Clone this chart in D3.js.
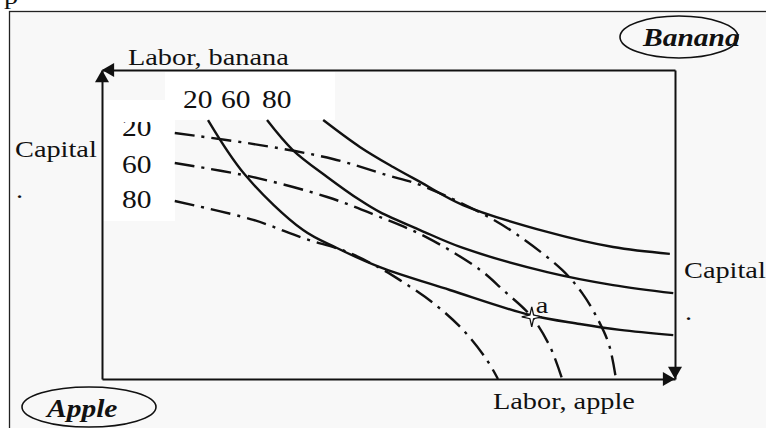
<!DOCTYPE html>
<html>
<head>
<meta charset="utf-8">
<script src="https://cdn.jsdelivr.net/npm/d3@7"></script>
<style>
body { margin: 0; background: #fff; }
text { font-family: "Liberation Serif", "Times New Roman", serif; fill: #111; }
</style>
</head>
<body>
<svg id="svg01" width="766" height="428"></svg>
<script>

// apple isoquants (solid) - [labor apple, capital apple], box is 100 x 100
const apple20 = [[18.5,83.8],[25.0,66.0],[35.1,48.2],[41.0,42.4],[48.5,36.2],[60.7,28.8],[74.7,20.7],[83.4,17.8],[90.4,15.9],[99.7,14.2]]
const apple60 = [[28.8,83.8],[33.3,74.1],[39.3,65.4],[45.0,57.9],[48.5,54.0],[55.5,48.2],[63.0,42.4],[77.7,34.6],[89.2,30.4],[99.7,27.8]]
const apple80 = [[38.6,83.8],[45.0,75.1],[50.8,68.6],[55.5,63.8],[63.0,56.3],[77.7,47.6],[89.2,42.7],[99.1,40.5]]

// banana isoquants (dash-dot), same apple-origin coords
const banana20 = [[12.7,79.6],[27.6,75.7],[40.3,71.2],[49.7,66.0],[55.5,62.8],[66.5,53.4],[72.3,46.9],[80.3,35.3],[83.8,27.8],[86.6,19.1],[88.5,11.0],[89.7,0]]
const banana60 = [[12.7,69.9],[26.2,65.4],[39.3,58.9],[48.0,52.8],[56.5,46.0],[66.0,35.3],[70.0,28.8],[75.0,20.1],[78.2,10.4],[80.3,0]]
const banana80 = [[12.7,57.6],[26.4,51.5],[35.1,45.6],[42.8,41.1],[48.5,35.9],[52.0,32.0],[57.8,24.6],[63.0,15.9],[67.2,6.1],[69.1,0]]

const appleLabels = ["20", "60", "80"]
const bananaLabels = ["20", "60", "80"]
const pointA = {name: "a", labor: 75.0, capital: 20.1}

const width = 766, height = 428
const margin = {top: 70, right: 91, bottom: 49, left: 102}

x = d3.scaleLinear()
    .domain([0, 100])
    .range([margin.left, width - margin.right])

y = d3.scaleLinear()
    .domain([0, 100])
    .range([height - margin.bottom, margin.top])

const svg = d3.select("#svg01")

//outer frame
svg.append("rect")
    .attr("x", 9.5).attr("y", 11.5)
    .attr("width", 780).attr("height", 440)
    .attr("fill", "#f8f8f8")
    .attr("stroke", "#222").attr("stroke-width", 1.3)

// text helper (the original type is stretched sideways)
function txt(g, s, px, py, size) {
    return g.append("text")
        .attr("transform", `translate(${px},${py}) scale(1.18,1)`)
        .attr("font-size", size)
        .text(s)
}

txt(svg, "p", 4, 4, 24)

// white label boxes
svg.append("rect").attr("x", 165).attr("y", 72).attr("width", 170).attr("height", 48).attr("fill", "#fff")
svg.append("rect").attr("x", 103).attr("y", 100).attr("width", 72).attr("height", 121).attr("fill", "#fff")

// box sides as axes without ticks
const sides = [
    [d3.axisBottom(x), `translate(0,${y(0)})`],
    [d3.axisTop(x), `translate(0,${y(100)})`],
    [d3.axisLeft(y), `translate(${x(0)},0)`],
    [d3.axisRight(y), `translate(${x(100)},0)`]
]
sides.forEach(([ax, tr]) => {
    svg.append("g")
        .attr("transform", tr)
        .call(ax.ticks(0).tickSizeOuter(0))
        .call(g => g.select(".domain").attr("stroke", "#111").attr("stroke-width", 2))
})

// arrow heads
const tri = d3.symbol(d3.symbolTriangle, 85)
const tipOff = 2 * Math.sqrt(85 / (Math.sqrt(3) * 3))
const heads = [
    [x(0) + tipOff, y(100), -90],
    [x(0), y(100) + tipOff, 0],
    [x(100) - tipOff, y(0), 90],
    [x(100), y(0) - tipOff, 180]
]
svg.selectAll(".head").data(heads).join("path")
    .attr("class", "head")
    .attr("d", tri)
    .attr("fill", "#111")
    .attr("transform", d => `translate(${d[0]},${d[1]}) rotate(${d[2]})`)

// curves
const line = d3.line()
    .x(d => x(d[0]))
    .y(d => y(d[1]))
    .curve(d3.curveCatmullRom)

const g_ = svg.append("g").attr("fill", "none").attr("stroke", "#111").attr("stroke-width", 2.4)

g_.selectAll(".apple").data([apple20, apple60, apple80]).join("path")
    .attr("class", "apple")
    .attr("d", line)

g_.selectAll(".banana").data([banana20, banana60, banana80]).join("path")
    .attr("class", "banana")
    .attr("d", line)
    .attr("stroke-dasharray", "20,7,3,7")

// point a (four pointed star)
const starR = [10, 2.6, 10, 2.6, 10, 2.6, 10, 2.6]
const star = d3.lineRadial()
    .angle((d, i) => i * Math.PI / 4)
    .radius(d => d)
    .curve(d3.curveLinearClosed)
svg.append("path")
    .attr("d", star(starR))
    .attr("transform", `translate(${x(pointA.labor)},${y(pointA.capital)})`)
    .attr("fill", "#fff").attr("stroke", "#111").attr("stroke-width", 1.3)
txt(svg, pointA.name, x(pointA.labor) + 4, y(pointA.capital) - 4, 24)

// isoquant labels
appleLabels.forEach((s, i) => txt(svg, s, [183, 221, 262][i], 108, 25))

svg.append("clipPath").attr("id", "clipL")
    .append("rect").attr("x", 103).attr("y", 122).attr("width", 72).attr("height", 100)
const gl = svg.append("g").attr("clip-path", "url(#clipL)")
bananaLabels.forEach((s, i) => txt(gl, s, 122, [136, 173, 208][i], 25))

// axis titles
txt(svg, "Labor, banana", 128, 65, 24)
txt(svg, "Labor, apple", 493, 409, 24)
txt(svg, "Capital", 15, 157, 24)
txt(svg, ".", 16, 198, 24)
txt(svg, "Capital", 684, 278, 24)
txt(svg, ".", 685, 320, 24)

// corner names in ellipses
svg.append("ellipse").attr("cx", 679).attr("cy", 37).attr("rx", 59).attr("ry", 21)
    .attr("fill", "none").attr("stroke", "#111").attr("stroke-width", 1.6)
txt(svg, "Banana", 643, 46, 25).attr("font-weight", "bold").attr("font-style", "italic")

svg.append("ellipse").attr("cx", 89).attr("cy", 407).attr("rx", 67).attr("ry", 20)
    .attr("fill", "none").attr("stroke", "#111").attr("stroke-width", 1.6)
txt(svg, "Apple", 47, 417, 25).attr("font-weight", "bold").attr("font-style", "italic")

</script>
</body>
</html>
